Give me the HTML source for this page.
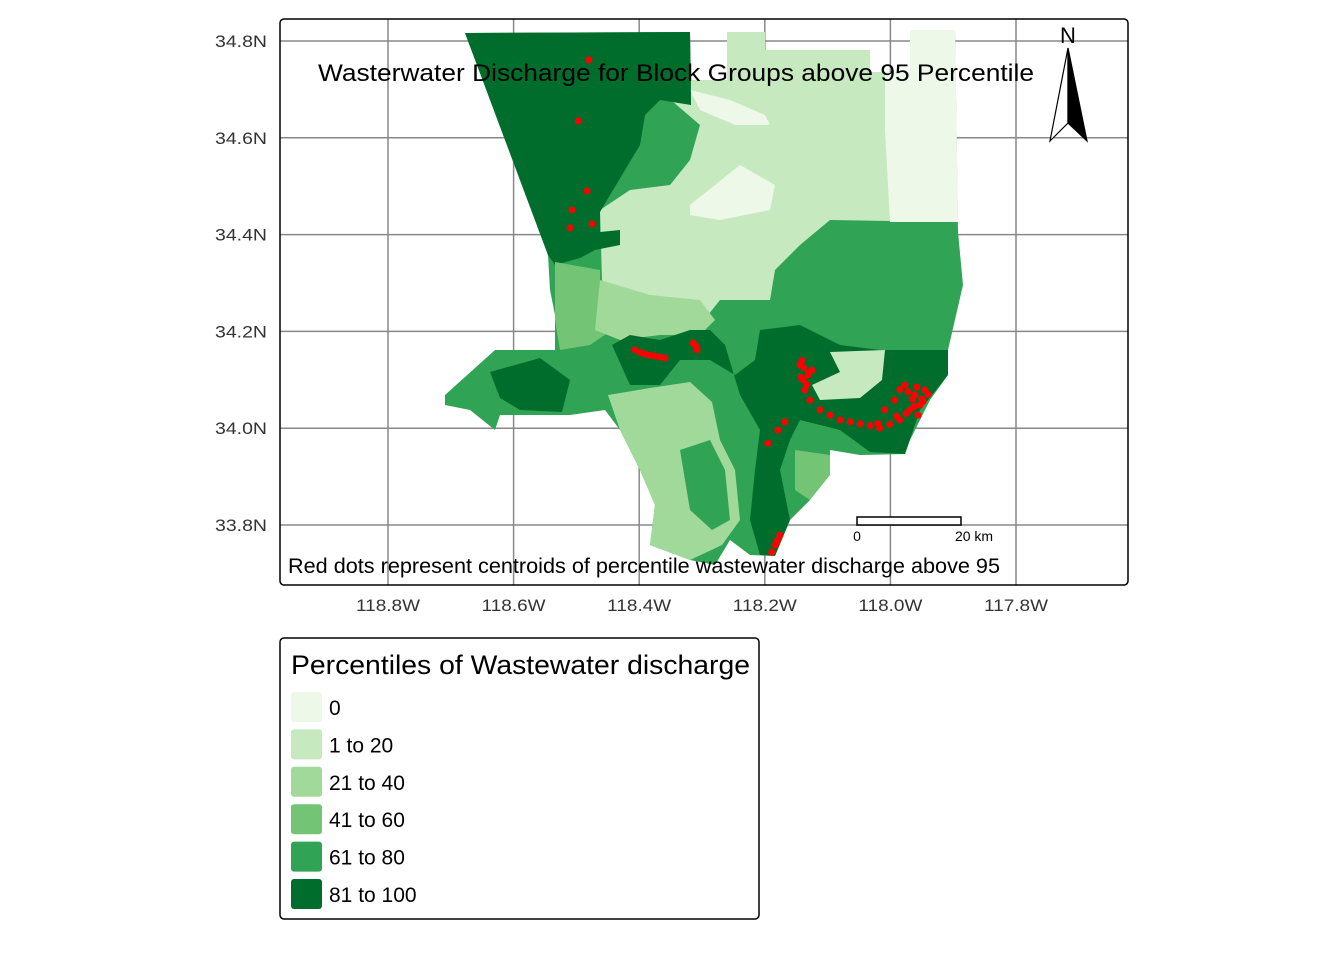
<!DOCTYPE html>
<html><head><meta charset="utf-8"><style>
body{margin:0;background:#fff}
svg{display:block;font-family:"Liberation Sans",sans-serif}
</style></head><body>
<svg width="1344" height="960">
<g id="grid"></g>
<g>
<path fill="#31a354" d="M465,33 L690,32 L691,80 L727,80 L727,32 L765,32 L765,50 L870,50 L870,72 L910,72 L910,30 L955,30 L958,232 L963,285 L948,350 L948,375 L930,400 L910,440 L905,454 L860,455 L830,450 L830,470 L810,500 L790,520 L775,556 L750,555 L730,540 L715,565 L690,560 L650,545 L655,505 L640,470 L620,430 L605,410 L570,415 L500,415 L495,430 L470,410 L445,405 L445,395 L495,350 L555,350 L555,315 L550,290 L548,255 Z"/>
<path fill="#c7e9c0" d="M691,80 L727,80 L727,32 L765,32 L765,50 L870,50 L870,72 L910,72 L910,30 L955,30 L958,222 L830,220 L800,245 L775,270 L770,300 L720,300 L700,325 L655,320 L620,300 L602,280 L600,210 L630,190 L670,185 L690,160 L700,125 L665,95 L691,105 Z"/>
<path fill="#edf8e9" d="M885,72 L910,72 L910,30 L955,30 L958,222 L890,222 L885,130 Z"/>
<path fill="#edf8e9" d="M690,205 L740,165 L775,185 L770,210 L720,220 L690,215 Z"/>
<path fill="#edf8e9" d="M690,90 L730,100 L765,115 L770,125 L735,125 L700,110 Z"/>
<path fill="#006d2c" d="M465,33 L690,32 L691,105 L660,100 L645,115 L640,145 L625,170 L610,195 L600,212 L600,232 L620,230 L620,245 L595,250 L580,258 L555,265 L548,255 Z"/>
<path fill="#74c476" d="M555,262 L600,270 L600,300 L612,330 L590,345 L560,350 L555,320 Z"/>
<path fill="#a1d99b" d="M600,280 L650,295 L700,300 L715,320 L700,335 L660,335 L620,340 L595,330 Z"/>
<path fill="#006d2c" d="M612,345 L630,335 L660,340 L690,330 L710,330 L725,345 L740,395 L760,430 L755,470 L750,520 L760,555 L775,556 L790,520 L780,470 L790,440 L800,420 L840,430 L870,452 L905,454 L920,410 L948,375 L948,350 L880,350 L840,345 L800,325 L760,330 L755,360 L735,375 L710,360 L680,360 L660,385 L630,385 Z"/>
<path fill="#c7e9c0" d="M830,352 L885,350 L882,380 L860,398 L820,400 L812,385 L840,372 Z"/>
<path fill="#006d2c" d="M490,372 L540,358 L570,380 L562,412 L520,410 L500,398 Z"/>
<path fill="#a1d99b" d="M608,395 L650,388 L690,382 L712,402 L720,440 L735,470 L740,520 L722,545 L690,560 L650,545 L655,505 L640,470 L620,430 Z"/>
<path fill="#31a354" d="M680,450 L710,440 L725,470 L730,520 L712,530 L690,510 Z"/>
<path fill="#74c476" d="M795,450 L830,455 L830,475 L810,500 L795,490 Z"/>
</g>
<g id="dots"></g>
<rect x="280" y="19" width="848" height="566" rx="4" fill="none" stroke="#000" stroke-width="1.5"/>
<g id="ticks" font-size="17" fill="#333"></g>
<text x="318" y="81" textLength="716" lengthAdjust="spacingAndGlyphs" font-size="24">Wasterwater Discharge for Block Groups above 95 Percentile</text>
<text x="288" y="573" textLength="712" lengthAdjust="spacingAndGlyphs" font-size="21">Red dots represent centroids of percentile wastewater discharge above 95</text>
<g>
<text x="1068" y="43" text-anchor="middle" font-size="22">N</text>
<polygon points="1068,48 1050,141 1068,123" fill="#fff" stroke="#000" stroke-width="1.2"/>
<polygon points="1068,48 1087,141 1068,123" fill="#000" stroke="#000" stroke-width="1.2"/>
</g>
<g>
<rect x="857" y="517" width="104" height="8" fill="#fff" stroke="#000" stroke-width="1.5"/>
<text x="857" y="541" text-anchor="middle" font-size="14">0</text>
<text x="974" y="541" text-anchor="middle" font-size="14">20 km</text>
</g>
<g>
<rect x="280" y="638" width="479" height="281" rx="4" fill="#fff" stroke="#000" stroke-width="1.5"/>
<text x="291" y="674" textLength="459" lengthAdjust="spacingAndGlyphs" font-size="27">Percentiles of Wastewater discharge</text>
<g id="legend-items"></g>
</g>
</svg>
<script>
const lonTicks=[118.8,118.6,118.4,118.2,118.0,117.8];
const latTicks=[34.8,34.6,34.4,34.2,34.0,33.8];
const dotLon=[118.480,118.497,118.483,118.507,118.510,118.475,118.407,118.399,118.391,118.383,118.375,118.367,118.359,118.314,118.310,118.308,118.144,118.131,118.136,118.128,118.125,118.139,118.141,118.133,118.112,118.096,118.080,118.064,118.048,118.032,118.017,118.001,117.985,117.977,117.961,117.953,117.969,117.945,117.993,118.009,117.956,117.965,117.950,117.940,117.985,118.168,118.179,118.195,118.176,118.180,118.183,118.189,118.138,118.130,118.142,117.972,117.958,117.948,117.962,117.975,117.990,118.020];
const dotLat=[34.761,34.635,34.490,34.451,34.414,34.422,34.162,34.157,34.153,34.151,34.149,34.147,34.145,34.176,34.170,34.162,34.131,34.110,34.079,34.058,34.120,34.100,34.140,34.090,34.038,34.027,34.017,34.013,34.009,34.005,34.000,34.008,34.017,34.089,34.069,34.048,34.038,34.079,34.058,34.038,34.027,34.060,34.060,34.070,34.080,34.013,33.996,33.969,33.779,33.768,33.759,33.744,34.125,34.115,34.105,34.075,34.085,34.055,34.045,34.030,34.025,34.010];
const legendLabels=["0","1 to 20","21 to 40","41 to 60","61 to 80","81 to 100"];
const legendColors=["#edf8e9","#c7e9c0","#a1d99b","#74c476","#31a354","#006d2c"];
const NS="http://www.w3.org/2000/svg";
const xs=lon=>388+(118.8-lon)/0.2*125.6;
const ys=lat=>41+(34.8-lat)/0.2*96.8;
function mk(t,a,p){const e=document.createElementNS(NS,t);for(const k in a)e.setAttribute(k,a[k]);p.appendChild(e);return e;}
const grid=document.getElementById('grid'),ticks=document.getElementById('ticks');
lonTicks.forEach(v=>{const l=mk('line',{x1:xs(v),x2:xs(v),y1:19,y2:585,stroke:'#888','stroke-width':1.5},grid);


const t=mk('text',{x:xs(v)-32,y:611,textLength:64,lengthAdjust:'spacingAndGlyphs'},ticks);t.textContent=v.toFixed(1)+'W';

});
latTicks.forEach(v=>{const l=mk('line',{x1:280,x2:1128,y1:ys(v),y2:ys(v),stroke:'#888','stroke-width':1.5},grid);


const t=mk('text',{x:215,y:ys(v)+6,textLength:52,lengthAdjust:'spacingAndGlyphs'},ticks);t.textContent=v.toFixed(1)+'N';

});
const dots=document.getElementById('dots');
dotLon.forEach((lo,i)=>{const c=mk('circle',{cx:xs(lo),cy:ys(dotLat[i]),r:3.5,fill:'#ff0000'},dots);

});
const li=document.getElementById('legend-items');
legendLabels.forEach((lab,i)=>{const y=692+i*37.4;
const r=mk('rect',{x:291,y:y,width:31,height:30,rx:3,fill:legendColors[i]},li);


const t=mk('text',{x:329,y:y+23,'font-size':21},li);t.textContent=lab;

});
</script>
</body></html>
